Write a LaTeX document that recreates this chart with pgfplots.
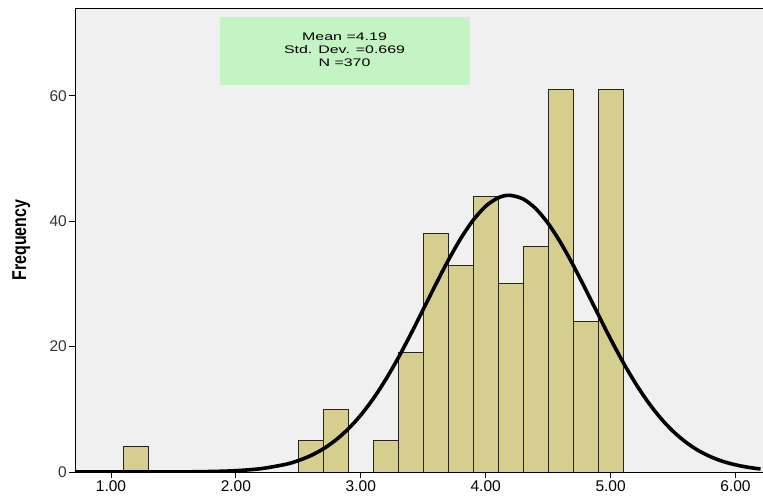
\documentclass[border=0pt]{standalone}
\usepackage{pgfplots}
\pgfplotsset{compat=1.18}
\usepackage{fontspec}
\setmainfont{Liberation Sans}
\definecolor{plotbg}{RGB}{240,240,240}
\definecolor{barfill}{RGB}{214,206,142}
\definecolor{baredge}{RGB}{40,38,28}
\definecolor{boxgreen}{RGB}{196,244,196}

% histogram counts, bin width 0.2 (bin centres)
\pgfplotstableread{
x    n
1.2  4
2.6  5
2.8  10
3.2  5
3.4  19
3.6  38
3.8  33
4.0  44
4.2  30
4.4  36
4.6  61
4.8  24
5.0  61
}\histdata

\begin{document}
\begin{tikzpicture}
\begin{axis}[
  at={(0,0)}, anchor=south west,
  scale only axis,
  width=688pt, height=464pt,
  xmin=0.712, xmax=6.22,
  ymin=0, ymax=74,
  axis background/.style={fill=plotbg},
  axis line style={black, line width=0.9pt},
  xtick={1,2,3,4,5,6},
  ytick={0,20,40,60},
  xtick pos=bottom, ytick pos=left,
  tick align=outside,
  major tick length=6pt,
  tick style={black, line width=0.8pt},
  xticklabel style={/pgf/number format/.cd, fixed, fixed zerofill, precision=2},
  /pgf/number format/assume math mode=true,
  ticklabel style={font=\fontsize{15.5}{16}\selectfont, inner sep=2pt},
  yticklabel style={text=black!80},
  ylabel={\scalebox{0.8}[1]{\fontsize{20}{20}\selectfont\bfseries Frequency}},
  every axis y label/.style={at={(axis description cs:-0.078,0.5)}, rotate=90, anchor=center},
  clip=true,
]
\addplot[ybar, bar width=0.2, bar shift=0pt, fill=barfill, draw=baredge, line width=0.9pt]
  table[x=x, y=n] {\histdata};

% fitted normal curve
\addplot[black, line width=3.6pt, smooth] coordinates {
(0.7,0) (1.5,0.01) (1.8,0.08) (2.0,0.21) (2.2,0.53) (2.4,1.23) (2.5,1.82) (2.6,2.62)
(2.7,3.69) (2.8,5.10) (2.9,6.88) (3.0,9.07) (3.1,11.70) (3.2,14.76) (3.3,18.21)
(3.4,21.98) (3.5,25.93) (3.6,29.91) (3.7,33.75) (3.8,37.23) (3.9,40.17) (4.0,42.39)
(4.1,43.73) (4.19,44.13) (4.3,43.54) (4.4,42.01) (4.5,39.64) (4.6,36.57) (4.7,33.00)
(4.8,29.12) (4.9,25.13) (5.0,21.20) (5.1,17.49) (5.2,14.12) (5.3,11.14) (5.4,8.60)
(5.5,6.49) (5.6,4.79) (5.7,3.45) (5.8,2.44) (5.9,1.68) (6.0,1.14) (6.1,0.75) (6.2,0.48)
};

\fill[boxgreen] (axis cs:1.873,72.6) rectangle (axis cs:3.874,61.7);
\node[align=center, font=\fontsize{11}{13}\selectfont, inner sep=0pt]
  at (axis cs:2.87,67.3) {\scalebox{1.45}[1]{Mean =4.19}\\\scalebox{1.45}[1]{Std. Dev. =0.669}\\\scalebox{1.45}[1]{N =370}};
\end{axis}
\pgfresetboundingbox
\path[use as bounding box] (-75pt,-25pt) rectangle (688pt,472pt);
\end{tikzpicture}
\end{document}
